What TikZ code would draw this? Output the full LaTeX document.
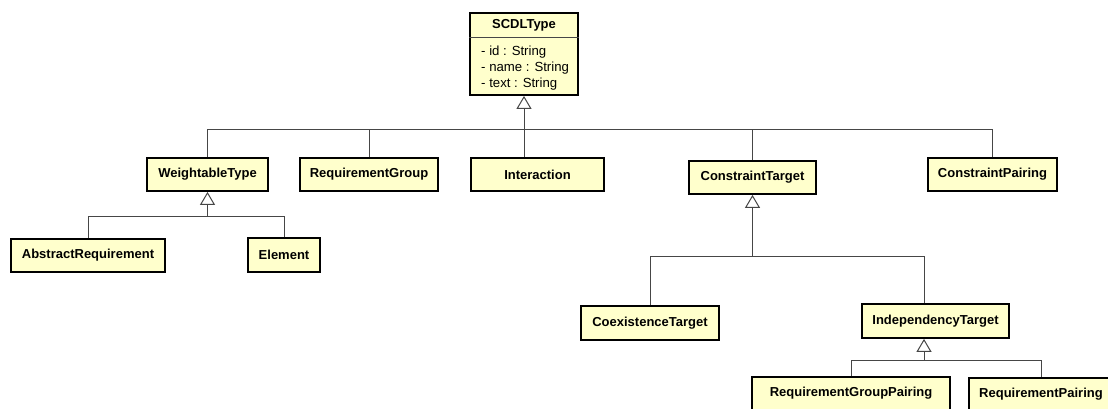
\documentclass[tikz,border=0pt]{standalone}
\usepackage{fontspec}
\setmainfont{Liberation Sans}
\usetikzlibrary{arrows.meta}
\definecolor{classfill}{RGB}{255,255,204}
\definecolor{linkgray}{RGB}{70,70,70}
\tikzset{
  classbox/.style={draw=black, line width=1.8pt, fill=classfill, inner sep=0pt,
    minimum height=33pt, font=\fontsize{13}{15}\selectfont\bfseries},
  classtitle/.style={inner sep=0pt, font=\fontsize{13}{15}\selectfont\bfseries},
  attrtext/.style={inner sep=0pt, align=left, font=\fontsize{13.2}{16}\selectfont},
  link/.style={draw=linkgray, line width=1pt},
  gen/.style={link, -{Triangle[open, width=15pt, length=13pt, fill=white]}},
}
\begin{document}
\begin{tikzpicture}[x=1pt,y=1pt]
\clip (0,0) rectangle (1108,-409);
\fill[white] (0,0) rectangle (1108,-409);

% root class with its attribute compartment
\node[classbox, minimum width=108pt, minimum height=82pt] (scdl) at (524,-54) {};
\coordinate (hdr) at (0,-38);
\draw[link] (scdl.west |- hdr) -- (scdl.east |- hdr);
\node[classtitle] (scdltitle) at (524,-25.5) {SCDLType};
\node[attrtext, anchor=west] (scdlattr) at (481,-68) {- id : String\\- name : String\\- text : String};

% first level
\node[classbox, minimum width=121pt] (wt) at (207.5,-174.5) {WeightableType};
\node[classbox, minimum width=138pt] (rg) at (369,-174.5) {RequirementGroup};
\node[classbox, minimum width=133pt] (inter) at (537.5,-174.5) {Interaction};
\node[classbox, minimum width=127pt] (ct) at (752.5,-177.5) {ConstraintTarget};
\node[classbox, minimum width=129pt] (cp) at (992.5,-174.5) {ConstraintPairing};

% second level
\node[classbox, minimum width=154pt] (ar) at (88,-255.5) {AbstractRequirement};
\node[classbox, minimum width=72pt, minimum height=34pt] (el) at (284,-255) {Element};
\node[classbox, minimum width=138pt, minimum height=34pt] (coex) at (650,-323) {CoexistenceTarget};
\node[classbox, minimum width=147pt, minimum height=34pt] (ind) at (935.5,-321) {IndependencyTarget};

% third level
\node[classbox, minimum width=198pt] (rgp) at (851,-393.5) {RequirementGroupPairing};
\node[classbox, minimum width=144pt] (rp) at (1041,-394.5) {RequirementPairing};

% generalisation to SCDLType
\coordinate (j1) at (524,-130);
\draw[link] (wt.north) |- (j1);
\draw[link] (rg.north) |- (j1);
\draw[link] (j1) -- (inter.north -| j1);
\draw[link] (ct.north) |- (j1);
\draw[link] (cp.north) |- (j1);
\draw[gen] (j1) -- (scdl.south);

% generalisation to WeightableType
\coordinate (j2) at (207.5,-216);
\draw[link] (ar.north) |- (j2);
\draw[link] (el.north) |- (j2);
\draw[gen] (j2) -- (wt.south);

% generalisation to ConstraintTarget
\coordinate (j3) at (752.5,-256);
\coordinate (itap) at (924,0);
\draw[link] (coex.north) |- (j3);
\draw[link] (ind.north -| itap) |- (j3);
\draw[gen] (j3) -- (ct.south);

% generalisation to IndependencyTarget
\coordinate (j4) at (924,-360);
\draw[link] (rgp.north) |- (j4);
\draw[link] (rp.north) |- (j4);
\draw[gen] (j4) -- (ind.south -| j4);
\end{tikzpicture}
\end{document}
